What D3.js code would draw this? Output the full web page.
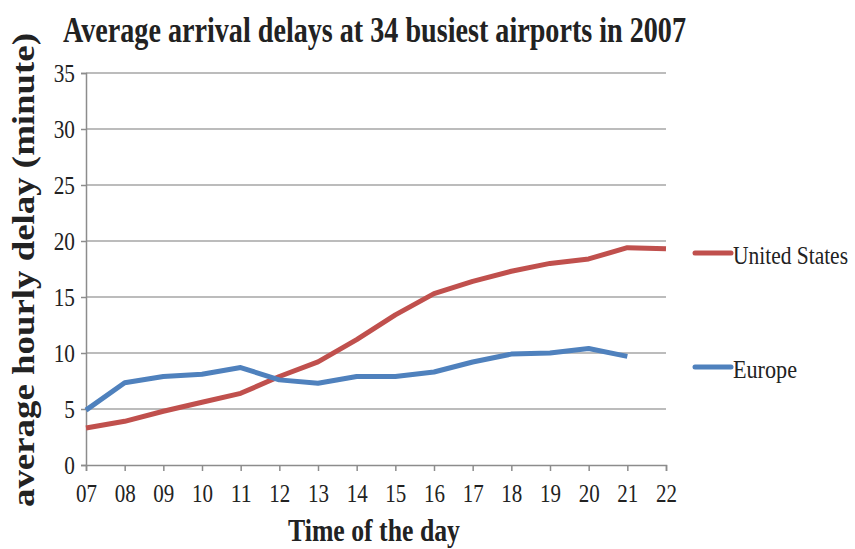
<!DOCTYPE html>
<html>
<head>
<meta charset="utf-8">
<script src="https://cdn.jsdelivr.net/npm/d3@7"></script>
<style>
  body { margin: 0; background: #fff; }
  text { font-family: "Liberation Serif", "DejaVu Serif", serif; fill: #222; }
</style>
</head>
<body>
<svg id="chart" width="855" height="549"></svg>
<script>
// hours of the day
var hours = ['07','08','09','10','11','12','13','14','15','16','17','18','19','20','21','22'];
// average hourly delay, minutes
var usDelay = [3.3, 3.9, 4.8, 5.6, 6.4, 7.9, 9.2, 11.2, 13.4, 15.3, 16.4, 17.3, 18.0, 18.4, 19.4, 19.3];
var euDelay = [4.9, 7.35, 7.9, 8.1, 8.7, 7.6, 7.3, 7.9, 7.9, 8.3, 9.2, 9.9, 10.0, 10.4, 9.7];
var yTicks = [0, 5, 10, 15, 20, 25, 30, 35];

var series = [
  { name: 'United States', values: usDelay, color: '#c0504d', legendY: 253, textW: 115 },
  { name: 'Europe', values: euDelay, color: '#4f81bd', legendY: 367, textW: 64 }
];

var svg = d3.select('#chart');
var plotLeft = 86, plotRight = 666, plotTop = 73, plotBottom = 465;

var x = d3.scalePoint().domain(hours).range([plotLeft, plotRight]);
var y = d3.scaleLinear().domain([0, 35]).range([plotBottom, plotTop]);

// gridlines
svg.append('g')
  .selectAll('line')
  .data(yTicks.slice(1))
  .enter().append('line')
    .attr('x1', plotLeft).attr('x2', plotRight)
    .attr('y1', function(d){ return y(d); })
    .attr('y2', function(d){ return y(d); })
    .attr('stroke', '#a6a6a6')
    .attr('stroke-width', 1.5);

// y axis
var yAxis = svg.append('g')
  .attr('transform', 'translate(' + plotLeft + ',0)')
  .call(d3.axisLeft(y).tickValues(yTicks).tickSize(5).tickPadding(4));
yAxis.select('.domain').attr('stroke', '#8c8c8c').attr('stroke-width', 1.5);
yAxis.selectAll('.tick line').attr('stroke', '#8c8c8c').attr('stroke-width', 1.5);
yAxis.selectAll('.tick text')
  .style('font-family', '"Liberation Serif", serif')
  .style('font-size', '25px')
  .attr('transform', 'scale(0.85,1)')
  .attr('x', -13)
  .attr('dy', '0.34em')
  .attr('fill', '#333');

// x axis
var xAxis = svg.append('g')
  .attr('transform', 'translate(0,' + plotBottom + ')')
  .call(d3.axisBottom(x).tickSize(6).tickPadding(6));
xAxis.select('.domain').attr('stroke', '#8c8c8c').attr('stroke-width', 1.5);
xAxis.selectAll('.tick line').attr('stroke', '#8c8c8c').attr('stroke-width', 1.5);
xAxis.selectAll('.tick text')
  .style('font-family', '"Liberation Serif", serif')
  .style('font-size', '25px')
  .attr('y', 37)
  .attr('dy', 0)
  .attr('textLength', 21)
  .attr('lengthAdjust', 'spacingAndGlyphs')
  .attr('fill', '#333');

// lines
var line = d3.line()
  .x(function(d, i){ return x(hours[i]); })
  .y(function(d){ return y(d); });

series.forEach(function(s){
  svg.append('path')
    .datum(s.values)
    .attr('d', line)
    .attr('fill', 'none')
    .attr('stroke', s.color)
    .attr('stroke-width', 5)
    .attr('stroke-linejoin', 'round');

  // legend
  svg.append('line')
    .attr('x1', 695).attr('x2', 731)
    .attr('y1', s.legendY).attr('y2', s.legendY)
    .attr('stroke', s.color)
    .attr('stroke-width', 5)
    .attr('stroke-linecap', 'round');
  svg.append('text')
    .attr('x', 733).attr('y', s.legendY + 11)
    .attr('textLength', s.textW)
    .attr('lengthAdjust', 'spacingAndGlyphs')
    .style('font-size', '25px')
    .text(s.name);
});

// title
svg.append('text')
  .attr('x', 63).attr('y', 42)
  .attr('textLength', 623)
  .attr('lengthAdjust', 'spacingAndGlyphs')
  .style('font-size', '35px')
  .style('font-weight', 'bold')
  .text('Average arrival delays at 34 busiest airports in 2007');

// axis titles
svg.append('text')
  .attr('x', 374).attr('y', 541)
  .attr('text-anchor', 'middle')
  .attr('textLength', 172)
  .attr('lengthAdjust', 'spacingAndGlyphs')
  .style('font-size', '32px')
  .style('font-weight', 'bold')
  .text('Time of the day');

svg.append('text')
  .attr('transform', 'translate(34,270) rotate(-90)')
  .attr('text-anchor', 'middle')
  .attr('textLength', 474)
  .attr('lengthAdjust', 'spacingAndGlyphs')
  .style('font-size', '31px')
  .style('font-weight', 'bold')
  .text('average hourly delay (minute)');
</script>
</body>
</html>
